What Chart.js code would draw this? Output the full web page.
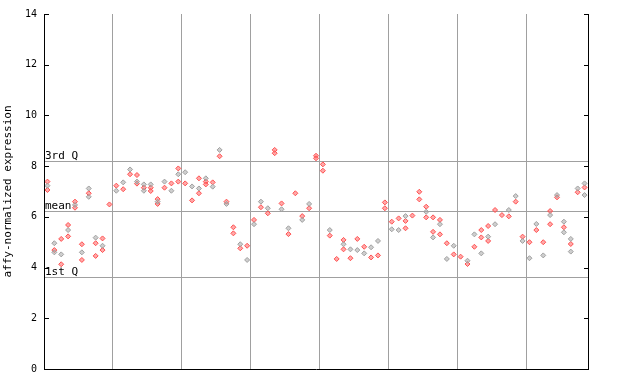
<!DOCTYPE html>
<html>
<head>
<meta charset="utf-8">
<script src="https://cdn.jsdelivr.net/npm/chart.js@4/dist/chart.umd.min.js"></script>
<style>
  html, body { margin: 0; padding: 0; background: #fff; }
  #wrap { width: 640px; height: 384px; }
</style>
</head>
<body>
<div id="wrap"><canvas id="myChart" width="640" height="384"></canvas></div>
<script>
// one entry per sample column
const redValues = [
  [7.39, 7.06], [4.69], [5.13, 4.13], [5.68, 5.23], [6.36, 6.60], [4.92, 4.30], [6.93], [4.96, 4.46], [5.15, 4.69], [6.49],
  [7.23], [7.09], [7.68], [7.65, 7.31], [7.15], [7.15, 7.02], [6.70, 6.51], [7.15], [7.32], [7.91, 7.39],
  [7.32], [6.65], [7.52, 6.93], [7.39, 7.28], [7.36], [8.39], [6.60], [5.59, 5.35], [4.76], [4.86],
  [5.88], [6.38], [6.14], [8.64, 8.51], [6.53], [5.32], [6.93], [6.03], [6.34], [8.41, 8.31],
  [8.07, 7.82], [5.26], [4.34], [5.09, 4.72], [4.37], [5.13], [4.82], [4.40], [4.48], [6.57, 6.34],
  [5.81], [5.94], [5.84, 5.55], [6.05], [6.99, 6.69], [6.40, 5.98], [5.98, 5.41], [5.88, 5.31], [4.96], [4.52],
  [4.43], [4.14], [4.82], [5.48, 5.19], [5.64, 5.05], [6.27], [6.07], [6.02], [6.60], [5.22],
  [5.00], [5.48], [5.00], [6.23, 5.71], [6.77], [5.59], [4.93], [6.97], [7.16]
];
const grayValues = [
  [7.23], [4.96, 4.60], [4.52], [5.48], [6.47], [4.60], [7.12, 6.79], [5.18], [4.86], [],
  [7.03], [7.36], [7.87], [7.39], [7.28, 7.03], [7.28], [6.60], [7.39], [7.03], [7.68],
  [7.76], [7.20], [7.12], [7.52], [7.19], [8.64], [6.51], [], [4.92], [4.30],
  [5.71], [6.60], [6.34], [], [6.30], [5.55], [], [5.88], [6.51], [],
  [], [5.48], [], [4.92], [4.72], [4.69], [4.56], [4.80], [5.05], [],
  [5.51], [5.48], [6.03], [], [], [6.20], [5.19], [5.71], [4.34], [4.86],
  [], [4.27], [5.31], [4.56], [5.22], [5.71], [], [6.27], [6.82], [5.05],
  [4.37], [5.72], [4.48], [6.07], [6.86], [5.81, 5.39], [5.13, 4.63], [7.12], [7.32, 6.86]
];
const groupBreaks = [9.5, 19.5, 29.5, 39.5, 49.5, 59.5, 69.5];
const yTicks = [0, 2, 4, 6, 8, 10, 12, 14];
const refLines = [
  { label: "3rd Q", value: 8.22 },
  { label: "mean", value: 6.23 },
  { label: "1st Q", value: 3.63 }
];

function toPoints(cols) {
  const pts = [];
  cols.forEach((vals, i) => vals.forEach((v) => pts.push({ x: i, y: v })));
  return pts;
}

const frame = {
  id: "frame",
  beforeDatasetsDraw(chart) {
    const { ctx, chartArea: a, scales: { y } } = chart;
    ctx.save();
    ctx.strokeStyle = "#a0a0a0";
    ctx.lineWidth = 1;
    refLines.forEach((r) => {
      const py = Math.round(y.getPixelForValue(r.value)) + 0.5;
      ctx.beginPath();
      ctx.moveTo(a.left, py);
      ctx.lineTo(a.right, py);
      ctx.stroke();
    });
    ctx.fillStyle = "#000";
    ctx.font = "11px 'DejaVu Sans Mono', monospace";
    ctx.textBaseline = "bottom";
    ctx.textAlign = "left";
    refLines.forEach((r) => {
      const py = Math.round(y.getPixelForValue(r.value));
      ctx.fillText(r.label, a.left + 1, py + 1);
    });
    ctx.restore();
  },
  afterDraw(chart) {
    const { ctx, chartArea: a, scales: { y } } = chart;
    ctx.save();
    ctx.strokeStyle = "#000";
    ctx.lineWidth = 1;
    ctx.beginPath();
    ctx.moveTo(a.left + 0.5, a.top);
    ctx.lineTo(a.left + 0.5, a.bottom + 0.5);
    ctx.lineTo(a.right + 0.5, a.bottom + 0.5);
    ctx.lineTo(a.right + 0.5, a.top);
    yTicks.forEach((t) => {
      const py = Math.round(y.getPixelForValue(t)) + 0.5;
      ctx.moveTo(a.left, py);
      ctx.lineTo(a.left + 5, py);
      ctx.moveTo(a.right - 4, py);
      ctx.lineTo(a.right + 1, py);
    });
    ctx.stroke();
    ctx.restore();
  }
};

const ctx = document.getElementById("myChart").getContext("2d");

new Chart(ctx, {
  type: "scatter",
  data: {
    datasets: [
      {
        label: "gray",
        data: toPoints(grayValues),
        pointStyle: "rectRot",
        radius: 2.5,
        backgroundColor: "rgba(165,165,165,0.55)",
        borderColor: "#a0a0a0",
        borderWidth: 1,
      },
      {
        label: "red",
        data: toPoints(redValues),
        pointStyle: "rectRot",
        radius: 2.5,
        backgroundColor: "rgba(255,110,110,0.6)",
        borderColor: "#ff5050",
        borderWidth: 1,
      },
    ],
  },
  options: {
    responsive: false,
    animation: false,
    layout: { padding: { top: 14, right: 52, left: 0, bottom: 0 } },
    plugins: {
      legend: { display: false },
      tooltip: { enabled: false },
    },
    scales: {
      x: {
        type: "linear",
        min: -0.5,
        max: 78.5,
        afterBuildTicks: (s) => { s.ticks = groupBreaks.map((v) => ({ value: v })); },
        afterFit: (s) => { s.height = 15; },
        ticks: { display: false },
        grid: { color: "#a0a0a0", drawTicks: false },
        border: { display: false },
      },
      y: {
        min: 0,
        max: 14,
        afterBuildTicks: (s) => { s.ticks = yTicks.map((v) => ({ value: v })); },
        afterFit: (s) => { s.width = 44; },
        ticks: {
          color: "#000",
          padding: 7,
          font: { family: "'DejaVu Sans Mono', monospace", size: 10 },
        },
        grid: { display: false, drawTicks: false },
        border: { display: false },
        title: {
          display: true,
          text: "affy-normalized expression",
          color: "#000",
          padding: { top: 2, bottom: 0 },
          font: { family: "'DejaVu Sans Mono', monospace", size: 11 },
        },
      },
    },
  },
  plugins: [frame],
});
</script>
</body>
</html>
